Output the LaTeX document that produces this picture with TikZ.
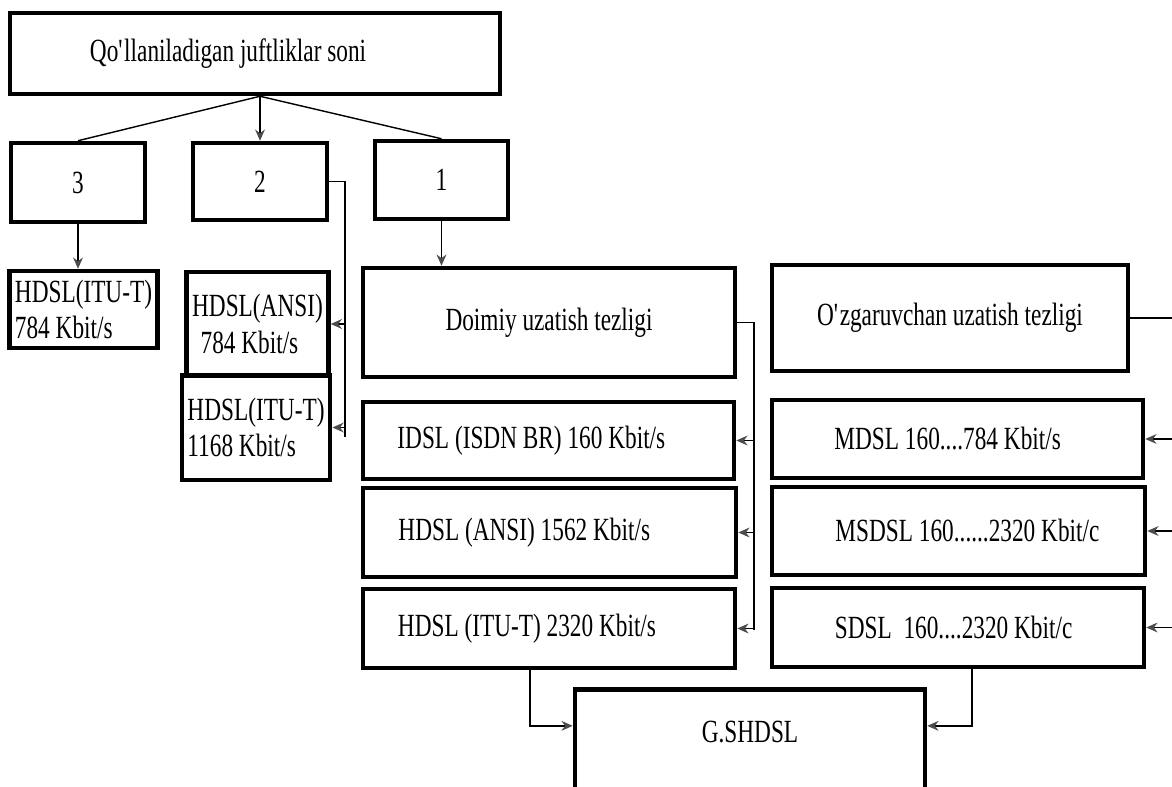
\documentclass[tikz,border=0pt]{standalone}
\usepackage{fontspec}
\setmainfont{Liberation Serif}[FakeStretch=0.72]
\usetikzlibrary{arrows.meta}
\newcommand{\lefttext}[2]{\makebox[#1][l]{#2}}

\begin{document}
\begin{tikzpicture}[
	x=0.0125cm, y=-0.0125cm,
	box/.style={
		draw, line width=1.6pt, rectangle,
		font=\fontsize{11.5}{13}\selectfont, align=center, inner sep=2pt
	},
	arr/.style={-{Stealth[length=4pt, width=3.5pt, color=black!70]}, line width=0.5pt},
	conn/.style={line width=0.5pt},
	]
	\useasboundingbox (0,0) rectangle (1172,787);
	% top level
	\node[box, minimum width=6.125cm, minimum height=1.0125cm] (pairs) at (255,53.5)
	{\lefttext{4.125cm}{Qo\textquotesingle llaniladigan juftliklar soni}};
	\node[box, minimum width=1.675cm, minimum height=0.9875cm] (n3) at (78,182.5) {3};
	\node[box, minimum width=1.675cm, minimum height=0.9625cm] (n2) at (260,181.5) {2};
	\node[box, minimum width=1.6625cm, minimum height=0.975cm] (n1) at (441.5,180) {1};
	% three and two pairs
	\node[box, align=left, minimum width=1.7875cm, minimum height=0.9625cm] (itu784) at (83.5,309.5)
	{HDSL(ITU-T)\\784 Kbit/s};
	\node[box, align=left, minimum width=1.7625cm, minimum height=1.3cm] (ansi784) at (257.5,324)
	{HDSL(ANSI)\\\hspace*{3pt}784 Kbit/s};
	\node[box, align=left, minimum width=1.8cm, minimum height=1.3125cm] (itu1168) at (256,427.5)
	{HDSL(ITU-T)\\1168 Kbit/s};
	% one pair
	\node[box, minimum width=4.65cm, minimum height=1.3625cm] (const) at (549,322.5)
	{Doimiy uzatish tezligi};
	\node[box, minimum width=4.45cm, minimum height=1.325cm] (var) at (950,318)
	{O\textquotesingle zgaruvchan uzatish tezligi};
	\node[box, minimum width=4.6375cm, minimum height=0.9625cm] (idsl) at (548.5,440.5)
	{\lefttext{3.775cm}{IDSL (ISDN BR) 160 Kbit/s}};
	\node[box, minimum width=4.6625cm, minimum height=1.1125cm] (ansi1562) at (549.5,532.5)
	{\lefttext{3.775cm}{HDSL (ANSI) 1562 Kbit/s}};
	\node[box, minimum width=4.65cm, minimum height=0.9875cm] (itu2320) at (549,628.5)
	{\lefttext{3.775cm}{HDSL (ITU-T) 2320 Kbit/s}};
	\node[box, minimum width=4.6375cm, minimum height=0.975cm] (mdsl) at (957.5,439)
	{\lefttext{3.075cm}{MDSL 160....784 Kbit/s}};
	\node[box, minimum width=4.6625cm, minimum height=1.1cm] (msdsl) at (958.5,531)
	{\lefttext{3.075cm}{MSDSL 160......2320 Kbit/c}};
	\node[box, minimum width=4.65cm, minimum height=0.9875cm] (sdsl) at (958,627.5)
	{\lefttext{3.075cm}{SDSL\ \ 160....2320 Kbit/c}};
	\node[box, minimum width=4.375cm, inner ysep=0pt, text height=0.6625cm, text depth=0.875cm,
	anchor=north] (gshdsl) at (750,687) {G.SHDSL};
	% bus ends
	\coordinate (bus2) at (345,437);
	\coordinate (bus1) at (754,630);
	\coordinate (edge) at (1180,0);
	% connectors
	\draw[conn] (pairs.south -| n2.north) -- (n3.north);
	\draw[conn] (pairs.south -| n2.north) -- (n1.north);
	\draw[arr] (pairs.south -| n2.north) -- (n2.north);
	\draw[arr] (n3.south) -- (n3.south |- itu784.north);
	\draw[arr] (n1.south) -- (n1.south |- const.north);
	\draw[conn] (n2.east) -| (bus2);
	\draw[arr] (ansi784.east -| bus2) -- (ansi784.east);
	\draw[arr] (itu1168.east -| bus2) -- (itu1168.east);
	\draw[conn] (const.east) -| (bus1);
	\draw[arr] (idsl.east -| bus1) -- (idsl.east);
	\draw[arr] (ansi1562.east -| bus1) -- (ansi1562.east);
	\draw[arr] (itu2320.east -| bus1) -- (itu2320.east);
	\draw[conn] (var.east) -- (var.east -| edge);
	\draw[arr] (mdsl.east -| edge) -- (mdsl.east);
	\draw[arr] (msdsl.east -| edge) -- (msdsl.east);
	\draw[arr] (sdsl.east -| edge) -- (sdsl.east);
	\draw[arr] ([xshift=-0.24cm]itu2320.south) |- (gshdsl.172);
	\draw[arr] ([xshift=0.175cm]sdsl.south) |- (gshdsl.8);
\end{tikzpicture}
\end{document}
